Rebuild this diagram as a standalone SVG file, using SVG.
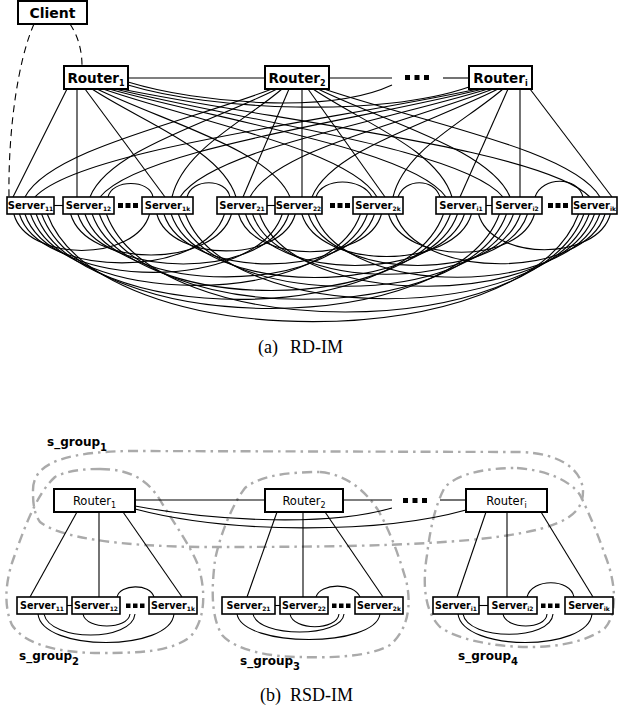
<svg xmlns="http://www.w3.org/2000/svg" width="619" height="710" viewBox="0 0 619 710">
<defs>
<style>
.box{fill:#fff;stroke:#000;stroke-width:2}
.sbox{fill:#fff;stroke:#000;stroke-width:1.6}
.c{fill:none;stroke:#000;stroke-width:1.1}
.d{fill:none;stroke:#000;stroke-width:1.1;stroke-dasharray:7 5}
.g{fill:none;stroke:#aaa;stroke-width:2.4;stroke-dasharray:10 5 2.5 5}
.rt{font-family:"DejaVu Sans",sans-serif;font-weight:bold;font-size:13.5px;text-anchor:middle}
.rb{font-family:"DejaVu Sans",sans-serif;font-size:11.5px;text-anchor:middle}
.st{font-family:"DejaVu Sans",sans-serif;font-weight:bold;font-size:10px;text-anchor:middle}
.sb{font-family:"DejaVu Sans",sans-serif;font-weight:bold;font-size:9.6px;text-anchor:middle}
.sg{font-family:"DejaVu Sans",sans-serif;font-weight:bold;font-size:12px}
.cap{font-family:"Liberation Serif",serif;font-size:18px}
.dot{fill:#000}
.s6{font-size:6px}
.s8{font-size:8px}
.s10{font-size:10px}
</style>
</defs>
<rect width="619" height="710" fill="#fff"/>

<!-- s_group outlines -->
<g id="groups">
<path id="s_group1_outline" class="g" d="M33,490 C33,465 60,452 130,451 L520,452 C560,453 583,470 583,492 C583,520 550,532 470,540 C400,546 330,547 200,547 C120,546 60,538 40,522 C33,512 33,500 33,490 Z"/>
<path id="s_group2_outline" class="g" d="M100,469 C130,469 148,480 160,500 C175,525 190,545 198,565 C206,590 206,620 190,637 C170,652 140,653 100,653 C60,653 25,645 12,625 C3,605 6,580 13,560 C22,535 35,495 55,477 C68,470 85,469 100,469 Z"/>
<path id="s_group3_outline" class="g" d="M320,472 C345,474 365,490 378,510 C392,535 400,560 406,580 C412,605 408,630 390,645 C370,657 330,658 300,657 C270,657 235,650 222,635 C210,615 212,585 215,560 C220,535 232,505 245,488 C262,474 295,472 320,472 Z"/>
<path id="s_group4_outline" class="g" d="M517,468 C545,470 570,480 580,495 C590,515 598,535 605,555 C617,585 617,615 605,628 C585,643 555,647 530,647 C490,647 455,638 440,627 C425,612 422,585 427,555 C430,530 435,505 445,487 C460,472 490,468 517,468 Z"/>
</g>

<g id="connectors">
<!-- RD-IM client -->
<path class="d" d="M34,24 C18,60 8,130 9,197"/>
<path class="d" d="M70,24 C78,36 82,50 82,66"/>
<!-- router-router -->
<path class="c" d="M128,78 L265,78"/>
<path class="c" d="M329,78 L392,78"/>
<path class="c" d="M443,78 L469,78"/>
<path class="c" d="M128,82 C200,104 330,114 392,85"/>
<path class="c" d="M128,85 C210,110 380,118 469,87"/>
<!-- router-server straight -->
<path class="c" d="M67,89 L13,197"/>
<path class="c" d="M77,89 L77,197"/>
<path class="c" d="M85,89 L165,197"/>
<path class="c" d="M289,89 L243,197"/>
<path class="c" d="M302,89 L302,197"/>
<path class="c" d="M308,89 L385,197"/>
<path class="c" d="M508,89 L460,197"/>
<path class="c" d="M520,89 L520,197"/>
<path class="c" d="M530,89 L612,197"/>
<!-- router-server curves -->
<path class="c" d="M92,89 C142.4,122 221.6,150 236,197"/>
<path class="c" d="M97,89 C164.6,122 270.7,150 290,197"/>
<path class="c" d="M103,89 C198.9,122 349.6,150 377,197"/>
<path class="c" d="M109,89 C227,122 412.3,150 446,197"/>
<path class="c" d="M115,89 C250.8,122 464.2,150 503,197"/>
<path class="c" d="M121,89 C285.2,122 543.1,150 590,197"/>
<path class="c" d="M272,89 C185.6,122 49.7,150 25,197"/>
<path class="c" d="M277,89 C211.6,122 108.7,150 90,197"/>
<path class="c" d="M282,89 C243.5,122 183,150 172,197"/>
<path class="c" d="M313,89 C361.7,122 438.1,150 452,197"/>
<path class="c" d="M318,89 C385.2,122 490.8,150 510,197"/>
<path class="c" d="M324,89 C420.6,122 572.4,150 600,197"/>
<path class="c" d="M478,89 C322.9,122 79.3,150 35,197"/>
<path class="c" d="M483,89 C348.9,122 138.3,150 100,197"/>
<path class="c" d="M488,89 C380.2,122 210.8,150 180,197"/>
<path class="c" d="M493,89 C408,122 274.3,150 250,197"/>
<path class="c" d="M498,89 C432.9,122 330.6,150 312,197"/>
<path class="c" d="M503,89 C464.5,122 404,150 393,197"/>
<!-- server adjacency -->
<path class="c" d="M54,205.5 L63,205.5"/>
<path class="c" d="M267,205.5 L275,205.5"/>
<path class="c" d="M486,205.5 L492,205.5"/>
<!-- server arcs above -->
<path class="c" d="M108,197 C112,179 150,179 153,197"/>
<path class="c" d="M187,197 C192,178 226,178 230,197"/>
<path class="c" d="M316,197 C322,177 362,177 372,197"/>
<path class="c" d="M398,197 C405,178 434,178 440,197"/>
<path class="c" d="M535,197 C542,176 578,176 583,197"/>
<!-- server arcs below -->
<path class="c" d="M13.8,214 C27.4,262.6 136,262.6 149.6,214"/>
<path class="c" d="M19.4,214 C39.9,279.2 204,279.2 224.5,214"/>
<path class="c" d="M24.9,214 C50.6,291.8 256.6,291.8 282.3,214"/>
<path class="c" d="M30.5,214 C63.5,309.2 327.5,309.2 360.5,214"/>
<path class="c" d="M36.1,214 C76.8,327.8 402.8,327.8 443.5,214"/>
<path class="c" d="M41.6,214 C87.4,339.9 453.7,339.9 499.5,214"/>
<path class="c" d="M47.2,214 C100.3,357.5 525.5,357.5 578.6,214"/>
<path class="c" d="M70.6,214 C86.7,268.6 215.4,268.6 231.5,214"/>
<path class="c" d="M77.8,214 C98.9,280.6 267.7,280.6 288.8,214"/>
<path class="c" d="M84.9,214 C113.2,297.8 339.2,297.8 367.5,214"/>
<path class="c" d="M92.1,214 C127.9,316 414.7,316 450.5,214"/>
<path class="c" d="M99.3,214 C140,327.7 465.8,327.7 506.5,214"/>
<path class="c" d="M106.4,214 C154.2,344.6 536.2,344.6 583.9,214"/>
<path class="c" d="M156.8,214 C170.7,263.2 281.5,263.2 295.3,214"/>
<path class="c" d="M163.9,214 C185,280.5 353.4,280.5 374.5,214"/>
<path class="c" d="M171.1,214 C199.7,298.7 428.9,298.7 457.5,214"/>
<path class="c" d="M178.3,214 C211.8,310.4 480,310.4 513.5,214"/>
<path class="c" d="M185.4,214 C225.8,326.9 548.8,326.9 589.2,214"/>
<path class="c" d="M238.5,214 C252.8,264.3 367.2,264.3 381.5,214"/>
<path class="c" d="M245.5,214 C267.4,282.6 442.6,282.6 464.5,214"/>
<path class="c" d="M252.5,214 C279.3,294.3 493.7,294.3 520.5,214"/>
<path class="c" d="M259.5,214 C293,310.4 561,310.4 594.5,214"/>
<path class="c" d="M301.8,214 C318.8,270.7 454.5,270.7 471.5,214"/>
<path class="c" d="M308.3,214 C330.2,282.6 505.6,282.6 527.5,214"/>
<path class="c" d="M314.8,214 C343.3,298.4 571.3,298.4 599.8,214"/>
<path class="c" d="M388.5,214 C403.1,265 519.9,265 534.5,214"/>
<path class="c" d="M395.5,214 C416.5,280.3 584.1,280.3 605.1,214"/>
<path class="c" d="M478.5,214 C491.7,261.7 597.2,261.7 610.4,214"/>

<!-- RSD-IM router-router -->
<path class="c" d="M135,500 L265,500"/>
<path class="c" d="M343,500 L392,500"/>
<path class="c" d="M440,500 L466,500"/>
<path class="c" d="M135,506 C220,522 330,526 392,508"/>
<path class="c" d="M135,509 C230,534 380,534 466,510"/>
<!-- RSD-IM router-server -->
<path class="c" d="M77,512 L30,597"/>
<path class="c" d="M99,512 L99,597"/>
<path class="c" d="M123,512 L182,597"/>
<path class="c" d="M277,512 L247,597"/>
<path class="c" d="M303,512 L303,597"/>
<path class="c" d="M325,512 L383,597"/>
<path class="c" d="M486,512 L457,597"/>
<path class="c" d="M507,512 L507,597"/>
<path class="c" d="M541,512 L593,597"/>
<!-- RSD-IM server links -->
<path class="c" d="M67,605.5 L72,605.5"/>
<path class="c" d="M275,605.5 L280,605.5"/>
<path class="c" d="M479,605.5 L488,605.5"/>
<path class="c" d="M38,614 C42,652 170,652 174,614"/>
<path class="c" d="M44,614 C50,642 132,642 135,614"/>
<path class="c" d="M83,614 C86,630 128,630 130,614"/>
<path class="c" d="M117,597 C120,584 150,583 154,597"/>
<path class="c" d="M237,614 C243,648 375,648 380,614"/>
<path class="c" d="M253,614 C258,638 342,638 344,614"/>
<path class="c" d="M290,614 C293,631 337,631 339,614"/>
<path class="c" d="M316,597 C320,583 354,582 360,597"/>
<path class="c" d="M458,614 C463,652 588,652 592,614"/>
<path class="c" d="M463,614 C468,641 551,641 553,614"/>
<path class="c" d="M503,614 C506,630 546,630 547,614"/>
<path class="c" d="M527,597 C532,578 570,578 574,597"/>
</g>

<!-- RD-IM nodes -->
<g id="client"><rect class="box" x="18" y="1" width="69" height="23"/><text class="rt" style="font-size:14px" x="52.5" y="17.5">Client</text></g>
<g id="a_router1"><rect class="box" x="64" y="66" width="64" height="23"/><text class="rt" x="96" y="82.5">Router<tspan class="s8" dy="3">1</tspan></text></g>
<g id="a_router2"><rect class="box" x="265" y="66" width="64" height="23"/><text class="rt" x="297" y="82.5">Router<tspan class="s8" dy="3">2</tspan></text></g>
<g id="a_routeri"><rect class="box" x="469" y="66" width="63" height="23"/><text class="rt" x="500.5" y="82.5">Router<tspan class="s8" dy="3">i</tspan></text></g>
<g id="a_router_dots"><rect class="dot" x="405" y="75" width="5" height="5"/><rect class="dot" x="414.5" y="75" width="5" height="5"/><rect class="dot" x="424" y="75" width="5" height="5"/></g>

<g id="a_server11"><rect class="sbox" x="7" y="197" width="47" height="17"/><text class="st" x="30.5" y="209">Server<tspan class="s6" dy="2">11</tspan></text></g>
<g id="a_server12"><rect class="sbox" x="63" y="197" width="51" height="17"/><text class="st" x="88.5" y="209">Server<tspan class="s6" dy="2">12</tspan></text></g>
<g id="a_dots1"><rect class="dot" x="118" y="203" width="5" height="5"/><rect class="dot" x="125.5" y="203" width="5" height="5"/><rect class="dot" x="133" y="203" width="5" height="5"/></g>
<g id="a_server1k"><rect class="sbox" x="142" y="197" width="51" height="17"/><text class="st" x="167.5" y="209">Server<tspan class="s6" dy="2">1k</tspan></text></g>
<g id="a_server21"><rect class="sbox" x="217" y="197" width="50" height="17"/><text class="st" x="242" y="209">Server<tspan class="s6" dy="2">21</tspan></text></g>
<g id="a_server22"><rect class="sbox" x="275" y="197" width="47" height="17"/><text class="st" x="298.5" y="209">Server<tspan class="s6" dy="2">22</tspan></text></g>
<g id="a_dots2"><rect class="dot" x="330" y="203" width="5" height="5"/><rect class="dot" x="337.5" y="203" width="5" height="5"/><rect class="dot" x="345" y="203" width="5" height="5"/></g>
<g id="a_server2k"><rect class="sbox" x="353" y="197" width="50" height="17"/><text class="st" x="378" y="209">Server<tspan class="s6" dy="2">2k</tspan></text></g>
<g id="a_serveri1"><rect class="sbox" x="436" y="197" width="50" height="17"/><text class="st" x="461" y="209">Server<tspan class="s6" dy="2">i1</tspan></text></g>
<g id="a_serveri2"><rect class="sbox" x="492" y="197" width="50" height="17"/><text class="st" x="517" y="209">Server<tspan class="s6" dy="2">i2</tspan></text></g>
<g id="a_dots3"><rect class="dot" x="548" y="203" width="5" height="5"/><rect class="dot" x="555.5" y="203" width="5" height="5"/><rect class="dot" x="563" y="203" width="5" height="5"/></g>
<g id="a_serverik"><rect class="sbox" x="572" y="197" width="45" height="17"/><text class="st" x="594.5" y="209">Server<tspan class="s6" dy="2">ik</tspan></text></g>

<text id="caption_a" class="cap" x="258" y="353">(a)<tspan x="290">RD-IM</tspan></text>

<!-- RSD-IM nodes -->
<g id="b_router1"><rect class="box" x="54" y="489" width="81" height="23"/><text class="rb" x="94.5" y="505">Router<tspan class="s8" dy="3">1</tspan></text></g>
<g id="b_router2"><rect class="box" x="265" y="489" width="78" height="23"/><text class="rb" x="304" y="505">Router<tspan class="s8" dy="3">2</tspan></text></g>
<g id="b_routeri"><rect class="box" x="466" y="489" width="81" height="23"/><text class="rb" x="506.5" y="505">Router<tspan class="s8" dy="3">i</tspan></text></g>
<g id="b_router_dots"><rect class="dot" x="403" y="498" width="5" height="5"/><rect class="dot" x="412.5" y="498" width="5" height="5"/><rect class="dot" x="422" y="498" width="5" height="5"/></g>

<g id="b_server11"><rect class="sbox" x="17" y="597" width="50" height="17"/><text class="sb" x="42" y="609">Server<tspan class="s6" dy="2">11</tspan></text></g>
<g id="b_server12"><rect class="sbox" x="72" y="597" width="48" height="17"/><text class="sb" x="96" y="609">Server<tspan class="s6" dy="2">12</tspan></text></g>
<g id="b_dots1"><rect class="dot" x="126" y="603.5" width="4.5" height="4.5"/><rect class="dot" x="133" y="603.5" width="4.5" height="4.5"/><rect class="dot" x="140" y="603.5" width="4.5" height="4.5"/></g>
<g id="b_server1k"><rect class="sbox" x="149" y="597" width="48" height="17"/><text class="sb" x="173" y="609">Server<tspan class="s6" dy="2">1k</tspan></text></g>
<g id="b_server21"><rect class="sbox" x="222" y="597" width="53" height="17"/><text class="sb" x="248.5" y="609">Server<tspan class="s6" dy="2">21</tspan></text></g>
<g id="b_server22"><rect class="sbox" x="280" y="597" width="48" height="17"/><text class="sb" x="304" y="609">Server<tspan class="s6" dy="2">22</tspan></text></g>
<g id="b_dots2"><rect class="dot" x="332" y="603.5" width="4.5" height="4.5"/><rect class="dot" x="339" y="603.5" width="4.5" height="4.5"/><rect class="dot" x="346" y="603.5" width="4.5" height="4.5"/></g>
<g id="b_server2k"><rect class="sbox" x="355" y="597" width="48" height="17"/><text class="sb" x="379" y="609">Server<tspan class="s6" dy="2">2k</tspan></text></g>
<g id="b_serveri1"><rect class="sbox" x="433" y="597" width="46" height="17"/><text class="sb" x="456" y="609">Server<tspan class="s6" dy="2">i1</tspan></text></g>
<g id="b_serveri2"><rect class="sbox" x="488" y="597" width="49" height="17"/><text class="sb" x="512.5" y="609">Server<tspan class="s6" dy="2">i2</tspan></text></g>
<g id="b_dots3"><rect class="dot" x="541" y="603.5" width="4.5" height="4.5"/><rect class="dot" x="548" y="603.5" width="4.5" height="4.5"/><rect class="dot" x="555" y="603.5" width="4.5" height="4.5"/></g>
<g id="b_serverik"><rect class="sbox" x="565" y="597" width="48" height="17"/><text class="sb" x="589" y="609">Server<tspan class="s6" dy="2">ik</tspan></text></g>

<g id="s_group_labels">
<text class="sg" x="47" y="446">s_group<tspan class="s10" dy="5">1</tspan></text>
<text class="sg" x="19" y="660">s_group<tspan class="s10" dy="5">2</tspan></text>
<text class="sg" x="240" y="665">s_group<tspan class="s10" dy="5">3</tspan></text>
<text class="sg" x="458" y="660">s_group<tspan class="s10" dy="5">4</tspan></text>
</g>

<text id="caption_b" class="cap" x="260" y="701">(b)<tspan x="290">RSD-IM</tspan></text>
</svg>
